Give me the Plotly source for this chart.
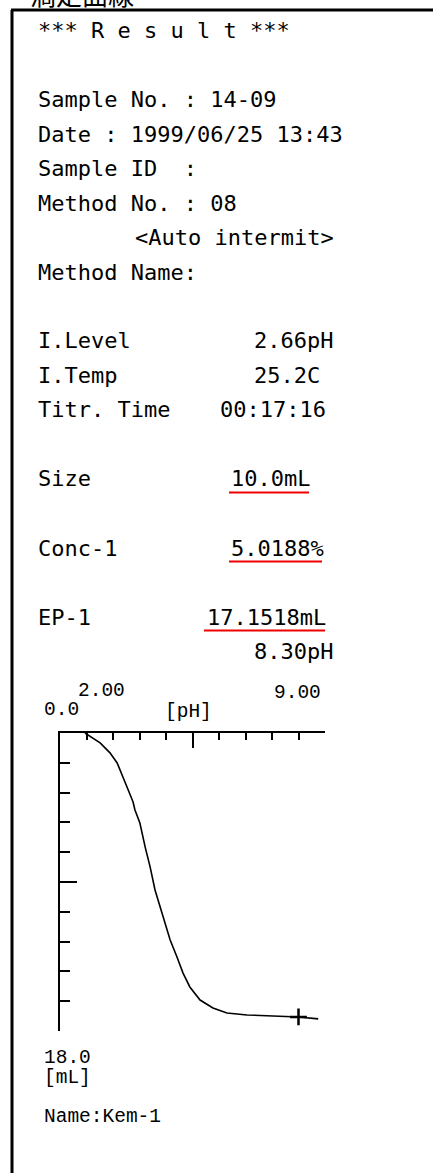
import plotly.graph_objects as go

W, H = 433, 1173

# ---- data -------------------------------------------------------------
header_title = "滴定曲線"
result_title = "*** R e s u l t ***"
info_lines = ["Sample No. : 14-09",
              "Date : 1999/06/25 13:43",
              "Sample ID  :",
              "Method No. : 08"]
method_mode = "<Auto intermit>"
method_name = "Method Name:"
meas_labels = ["I.Level", "I.Temp", "Titr. Time"]
meas_values = ["2.66pH", "25.2C", "00:17:16"]
res_labels = ["Size", "Conc-1", "EP-1"]
res_values = ["10.0mL", "5.0188%", "17.1518mL"]
ep_ph_text = "8.30pH"
x_tick_labels = ["2.00", "9.00"]
x_unit = "[pH]"
y_tick_labels = ["0.0", "18.0"]
y_unit = "[mL]"
curve_name = "Name:Kem-1"

ph = [2.66, 3.06, 3.32, 3.51, 3.77, 3.93, 3.98, 4.11, 4.25, 4.38, 4.51, 4.64,
      4.77, 4.91, 5.09, 5.25, 5.43, 5.70, 6.04, 6.41, 6.94, 7.60, 8.30, 8.82]
ml = [0.0, 0.6, 1.2, 1.81, 3.26, 4.17, 4.65, 5.44, 6.89, 8.09, 9.48, 10.51,
      11.48, 12.50, 13.53, 14.50, 15.34, 16.13, 16.61, 16.91, 17.03, 17.10, 17.15, 17.27]
ep_ph = [8.30]
ep_ml = [17.15]

# ---- helpers ----------------------------------------------------------
def px(x):
    return x / W

def py(y):
    return 1 - y / H

def nb(s):
    return s.replace(" ", "\u00a0")

MAIN_FONT = dict(family="DejaVu Sans Mono", size=22, color="black")
DOT_FONT = dict(family="Liberation Mono", size=19.5, color="black")

ann = []

def text(x, y, s, font, xanchor="left"):
    ann.append(dict(x=px(x), y=py(y), xref="paper", yref="paper", text=nb(s),
                    showarrow=False, xanchor=xanchor, yanchor="middle", font=font))

fig = go.Figure()
fig.add_trace(go.Scatter(x=ph, y=ml, mode="lines",
                         line=dict(color="black", width=1.6), showlegend=False))
fig.add_trace(go.Scatter(x=ep_ph, y=ep_ml, mode="markers",
                         marker=dict(symbol="cross-thin", size=12,
                                     line=dict(color="black", width=2.5)),
                         showlegend=False))

# header (cut off at top)
ann.append(dict(x=px(28), y=py(-6), xref="paper", yref="paper", text=header_title,
                showarrow=False, xanchor="left", yanchor="middle",
                font=dict(family="Noto Sans CJK JP", size=26, color="black")))

LINE0, STEP = 30.5, 34.5
def ly(k):
    return LINE0 + k * STEP

text(36, ly(0), result_title, MAIN_FONT)
for i, s in enumerate(info_lines):
    text(36, ly(2 + i), s, MAIN_FONT)
text(133, ly(6), method_mode, MAIN_FONT)
text(36, ly(7), method_name, MAIN_FONT)

meas_x = [252, 252, 218]
for i in range(3):
    text(36, ly(9 + i), meas_labels[i], MAIN_FONT)
    text(meas_x[i], ly(9 + i), meas_values[i], MAIN_FONT)

res_x = [229, 229, 205]
res_ul = [(229, 309), (229, 322), (204, 325)]
shapes = []
for i in range(3):
    yy = ly(13 + 2 * i)
    text(36, yy, res_labels[i], MAIN_FONT)
    text(res_x[i], yy, res_values[i], MAIN_FONT)
    shapes.append(dict(type="line", xref="paper", yref="paper",
                       x0=px(res_ul[i][0]), x1=px(res_ul[i][1]),
                       y0=py(yy + 13.5), y1=py(yy + 13.5),
                       line=dict(color="#ee0000", width=2.2)))
text(252, ly(18), ep_ph_text, MAIN_FONT)

# chart labels (dot matrix style)
text(101, 691, x_tick_labels[0], DOT_FONT, xanchor="center")
text(297, 693, x_tick_labels[1], DOT_FONT, xanchor="center")
text(42, 710, y_tick_labels[0], DOT_FONT)
text(188, 712, x_unit, DOT_FONT, xanchor="center")
text(42, 1058, y_tick_labels[1], DOT_FONT)
text(42, 1078, y_unit, DOT_FONT)
text(42, 1117, curve_name, DOT_FONT)

# page frame
shapes.append(dict(type="line", xref="paper", yref="paper",
                   x0=px(12), x1=px(12), y0=py(10), y1=py(1180),
                   line=dict(color="black", width=3)))
shapes.append(dict(type="line", xref="paper", yref="paper",
                   x0=px(11), x1=px(440), y0=py(10), y1=py(10),
                   line=dict(color="black", width=3)))

fig.update_layout(
    width=W, height=H, margin=dict(l=0, r=0, t=0, b=0),
    paper_bgcolor="white", plot_bgcolor="white",
    annotations=ann, shapes=shapes,
    xaxis=dict(domain=[px(60), px(325)], range=[2, 9], side="top",
               showline=True, linecolor="black", linewidth=2,
               showgrid=False, zeroline=False, showticklabels=False,
               ticks="inside", tick0=2, dtick=3.5, ticklen=15, tickwidth=2,
               tickcolor="black",
               minor=dict(ticks="inside", dtick=0.7, tick0=2, ticklen=7,
                          tickwidth=2, tickcolor="black", showgrid=False)),
    yaxis=dict(domain=[py(1031), py(733)], range=[18, 0],
               showline=True, linecolor="black", linewidth=2,
               showgrid=False, zeroline=False, showticklabels=False,
               ticks="inside", tick0=0, dtick=9, ticklen=17, tickwidth=2,
               tickcolor="black",
               minor=dict(ticks="inside", dtick=1.8, tick0=0, ticklen=10,
                          tickwidth=2, tickcolor="black", showgrid=False)),
)

fig.write_html("out.html",
               config={"displayModeBar": False},
               post_script="document.body.style.margin='0';"
                           "document.body.style.overflow='hidden';")
